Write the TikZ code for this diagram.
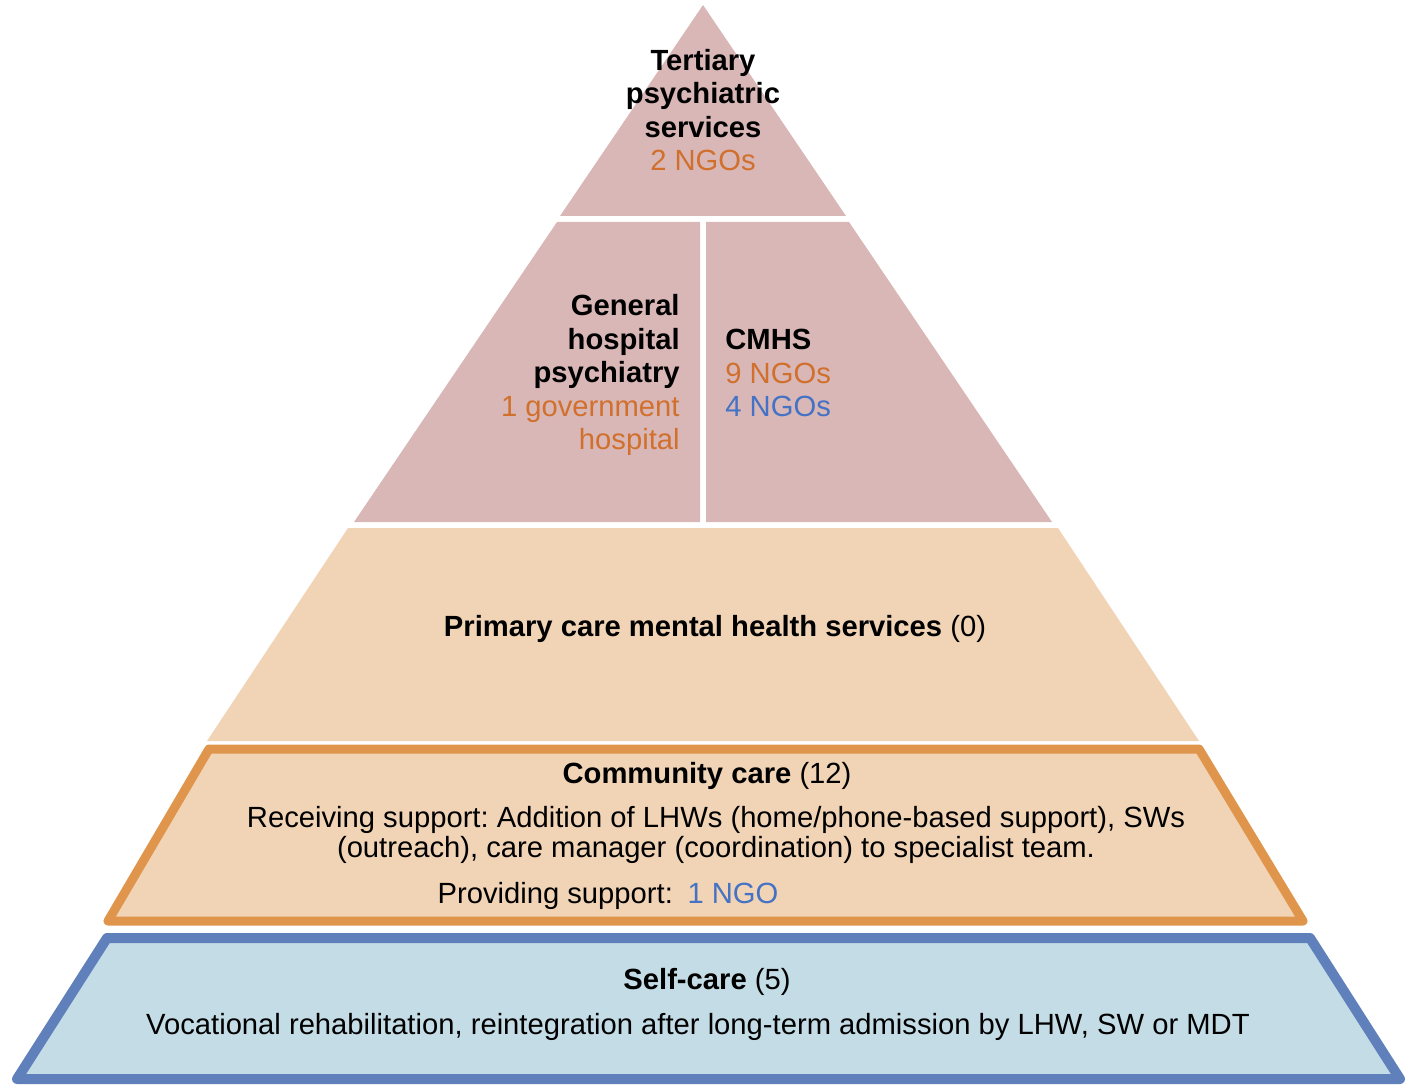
\documentclass[tikz,border=0pt]{standalone}
\usepackage{fontspec}
\setmainfont{Liberation Sans}
\frenchspacing
\definecolor{tierpink}{HTML}{D9B7B7}
\definecolor{tierpeach}{HTML}{F1D3B5}
\definecolor{commorange}{HTML}{E0954C}
\definecolor{selffill}{HTML}{C3DCE6}
\definecolor{selfblue}{HTML}{6080BB}
\definecolor{ngoorange}{HTML}{D0702C}
\definecolor{ngoblue}{HTML}{4472C4}
\begin{document}
\begin{tikzpicture}[x=0.5pt,y=-0.5pt,
  tiertext/.style={draw=none,inner sep=0pt,font=\fontsize{14.6}{16.75}\selectfont},
  bandtext/.style={draw=none,inner sep=0pt,font=\fontsize{14.6}{15}\selectfont}]
\useasboundingbox (0,0) rectangle (1416,1085);
% tiers
\fill[tierpink] (703,5) -- (846,216) -- (560,216) -- cycle;
\fill[tierpink] (557,222) -- (700,222) -- (700,522) -- (354,522) -- cycle;
\fill[tierpink] (706,222) -- (849,222) -- (1052,522) -- (706,522) -- cycle;
\fill[tierpeach] (348,528) -- (1058,528) -- (1199,741) -- (207,741) -- cycle;
\draw[commorange,line width=4.5pt,line join=round,fill=tierpeach] (209,749) -- (1199,749) -- (1303,921) -- (108,921) -- cycle;
\draw[selfblue,line width=5pt,line join=round,fill=selffill] (107,938) -- (1310,938) -- (1400,1079) -- (17,1079) -- cycle;
% labels
\node[tiertext,align=center] (tertiary) at (703,110) {\textbf{Tertiary}\\\textbf{psychiatric}\\\textbf{services}\\\textcolor{ngoorange}{2 NGOs}};
\node[tiertext,align=right,anchor=east] (general) at (680,375) {\textbf{General}\\\textbf{hospital}\\\textbf{psychiatry}\\\textcolor{ngoorange}{1 government}\\\textcolor{ngoorange}{hospital}};
\node[tiertext,align=left,anchor=west] (cmhs) at (725,373) {\textbf{CMHS}\\\textcolor{ngoorange}{9 NGOs}\\\textcolor{ngoblue}{4 NGOs}};
\node[tiertext] (primary) at (715,629) {\textbf{Primary care mental health services} (0)};
\node[bandtext] (community) at (707,776) {\textbf{Community care} (12)};
\node[bandtext,align=center] (receiving) at (716,835) {Receiving support: Addition of LHWs (home/phone-based support), SWs\\(outreach), care manager (coordination) to specialist team.};
\node[bandtext] (providing) at (608,896) {Providing support:\enspace\textcolor{ngoblue}{1 NGO}};
\node[bandtext] (selfcare) at (707,982) {\textbf{Self-care} (5)};
\node[bandtext] (vocational) at (698,1027) {Vocational rehabilitation, reintegration after long-term admission by LHW, SW or MDT};
\end{tikzpicture}
\end{document}
